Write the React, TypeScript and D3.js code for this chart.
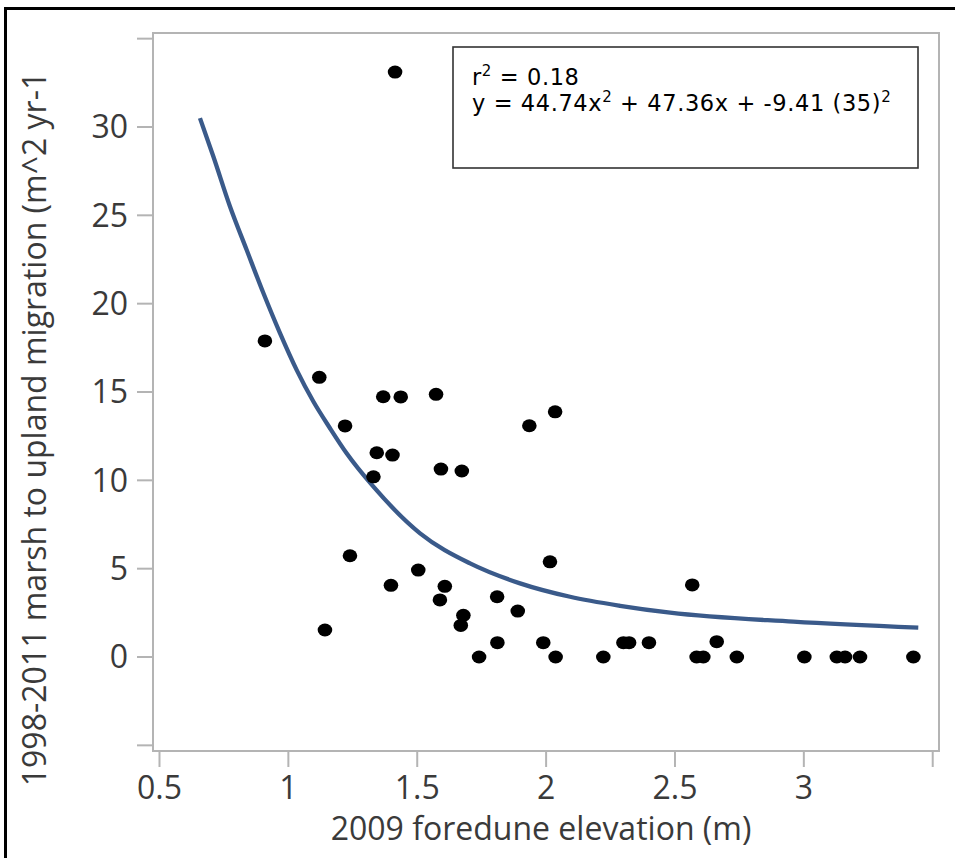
import React from "react";
import * as d3 from "d3";

// Observations: 2009 foredune elevation (m) vs 1998-2011 marsh to upland migration
const elevation = [
  0.909, 1.12, 1.22, 1.368, 1.436, 1.573, 1.343, 1.404, 1.33, 1.592, 1.673,
  1.935, 2.035, 1.239, 1.142, 1.398, 1.504, 1.607, 1.588, 1.679, 1.669, 1.74,
  1.81, 1.89, 1.811, 1.989, 2.015, 2.037, 2.222, 2.3, 2.322, 2.399, 2.567,
  2.584, 2.61, 2.662, 2.74, 3.002, 3.128, 3.16, 3.218, 3.425, 1.414,
];
const migration = [
  17.89, 15.83, 13.08, 14.73, 14.72, 14.87, 11.56, 11.43, 10.2, 10.64, 10.53,
  13.09, 13.88, 5.73, 1.53, 4.06, 4.92, 4.0, 3.23, 2.36, 1.79, 0, 3.41, 2.6,
  0.81, 0.81, 5.39, 0, 0, 0.81, 0.81, 0.81, 4.08, 0, 0, 0.87, 0, 0, 0, 0, 0,
  0, 33.11,
];

// Fitted curve
const fitX = [
  0.657, 0.709, 0.7735, 0.838, 0.903, 0.9675, 1.032, 1.097, 1.1615, 1.226,
  1.33, 1.511, 1.705, 1.899, 2.093, 2.287, 2.481, 2.959, 3.444,
];
const fitY = [
  30.5, 28.33, 25.5, 23.05, 20.6, 18.33, 16.25, 14.46, 12.95, 11.53, 9.64,
  7.0, 5.3, 4.17, 3.41, 2.9, 2.51, 2.0, 1.66,
];

const xTicks = [0.5, 1, 1.5, 2, 2.5, 3, 3.5];
const xTickLabels = ["0.5", "1", "1.5", "2", "2.5", "3", ""];
const yTicks = [-5, 0, 5, 10, 15, 20, 25, 30, 35];
const yTickLabels = ["", "0", "5", "10", "15", "20", "25", "30", ""];

const xTitle = "2009 foredune elevation (m)";
const yTitle = "1998-2011 marsh to upland migration (m^2 yr-1";
const r2Text = "0.18";
const eqParts = ["y = 44.74x", " + 47.36x + -9.41 (35)"];

const W = 955;
const H = 858;
const L = 153, R = 939, T = 33, B = 751;

export default function App() {
  const x = d3.scaleLinear().domain([0.4748, 3.5244]).range([L, R]);
  const y = d3.scaleLinear().domain([-5.32, 35.32]).range([B, T]);
  const line = d3
    .line<number>()
    .x((_, i) => x(fitX[i]))
    .y((_, i) => y(fitY[i]))
    .curve(d3.curveMonotoneX);
  const axisFont = "'Open Sans', sans-serif";
  const gray = "#b4b4b4";
  const txt = "#3a3a3a";
  const annFont = "'DejaVu Sans', sans-serif";
  return (
    <svg
      width={W}
      height={H}
      style={{ position: "absolute", left: 0, top: 0, background: "#fff" }}
    >
      <rect x={0} y={0} width={W} height={H} fill="#fff" />
      <rect x={5.5} y={8.5} width={1200} height={1200} fill="none" stroke="#000" strokeWidth={3} />
      {/* plot frame */}
      <rect x={L} y={T} width={R - L} height={B - T} fill="none" stroke={gray} strokeWidth={2} />
      {/* y ticks */}
      {yTicks.map((t, i) => (
        <g key={"y" + i}>
          <line x1={L - 16} x2={L} y1={y(t)} y2={y(t)} stroke={gray} strokeWidth={2} />
          {yTickLabels[i] && (
            <text
              x={128}
              y={y(t)}
              dy="0.357em"
              textAnchor="end"
              fontFamily={axisFont}
              fontSize={32}
              fill={txt}
            >
              {yTickLabels[i]}
            </text>
          )}
        </g>
      ))}
      {/* x ticks */}
      {xTicks.map((t, i) => (
        <g key={"x" + i}>
          <line x1={x(t)} x2={x(t)} y1={B} y2={B + 16} stroke={gray} strokeWidth={2} />
          {xTickLabels[i] && (
            <text
              x={x(t)}
              y={799}
              textAnchor="middle"
              fontFamily={axisFont}
              fontSize={32}
              fill={txt}
            >
              {xTickLabels[i]}
            </text>
          )}
        </g>
      ))}
      <text
        x={(L + R) / 2 - 5}
        y={840}
        textAnchor="middle"
        fontFamily={axisFont}
        fontSize={32}
        fill={txt}
      >
        {xTitle}
      </text>
      <text
        transform={`translate(46, 429) rotate(-90)`}
        textAnchor="middle"
        fontFamily={axisFont}
        fontSize={32}
        fill={txt}
      >
        {yTitle}
      </text>
      {/* fitted curve */}
      <path d={line(fitX) || ""} fill="none" stroke="#3a5a8a" strokeWidth={4.3} />
      {/* points */}
      {elevation.map((e, i) => (
        <ellipse key={"p" + i} cx={x(e)} cy={y(migration[i])} rx={7.3} ry={6.5} fill="#000" />
      ))}
      {/* annotation box */}
      <rect x={453} y={47} width={465} height={121} fill="#fff" stroke="#333" strokeWidth={1.6} />
      <text x={472} y={85} fontFamily={annFont} fontSize={22.5} letterSpacing={0.6} fill="#000">
        r<tspan fontSize={15} dy={-9}>2</tspan>
        <tspan dy={9}>{" = " + r2Text}</tspan>
      </text>
      <text x={472} y={111} fontFamily={annFont} fontSize={22.5} letterSpacing={0.6} fill="#000">
        {eqParts[0]}
        <tspan fontSize={15} dy={-9}>2</tspan>
        <tspan dy={9}>{eqParts[1]}</tspan>
        <tspan fontSize={15} dy={-9}>2</tspan>
      </text>
    </svg>
  );
}
